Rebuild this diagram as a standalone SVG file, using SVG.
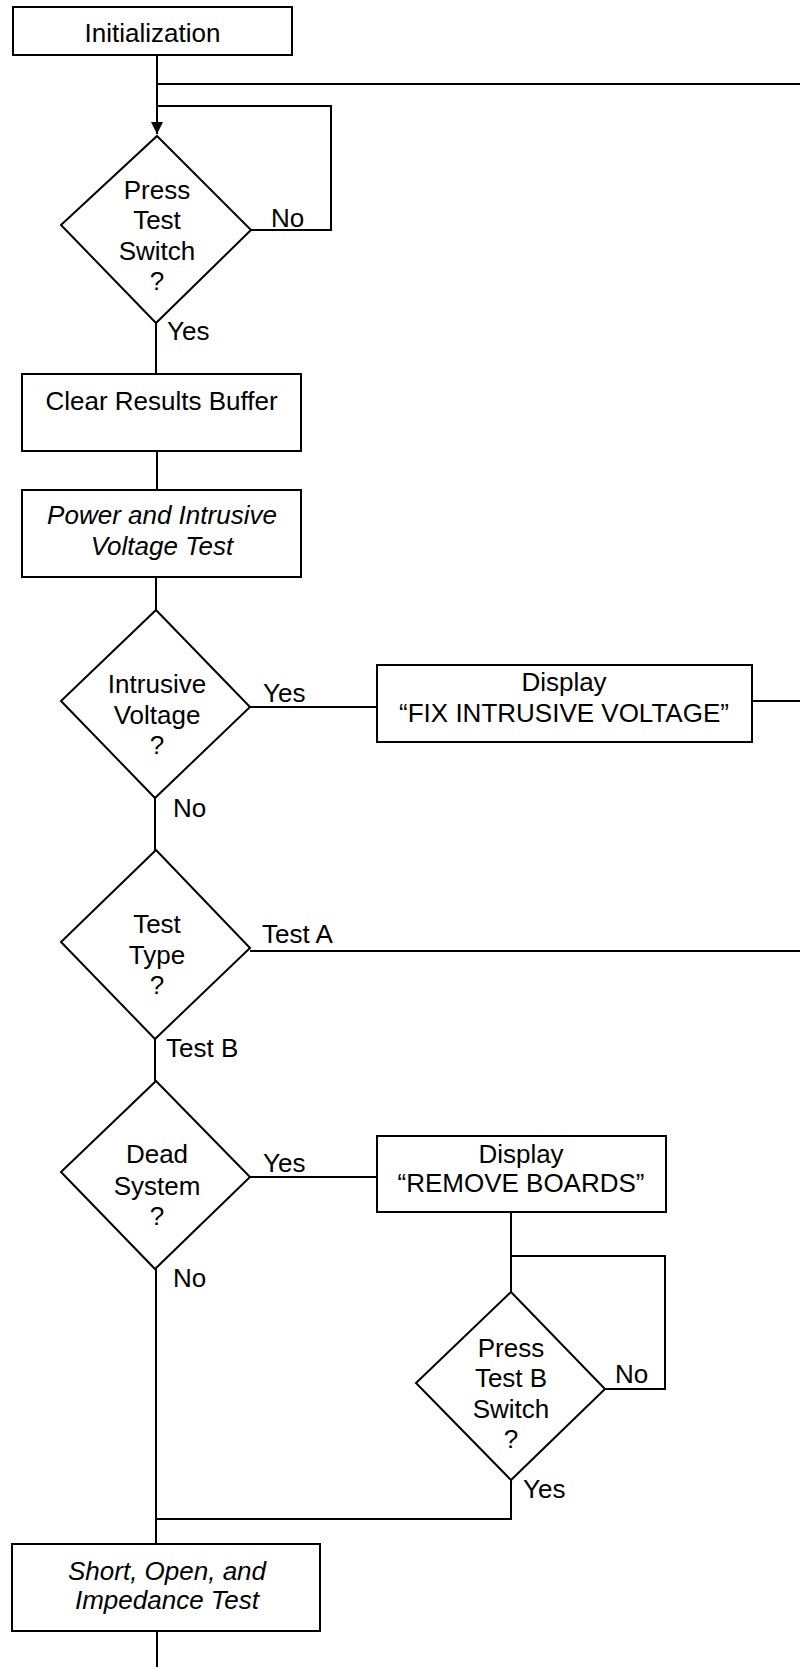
<svg xmlns="http://www.w3.org/2000/svg" width="800" height="1667" viewBox="0 0 800 1667">
  <style>
    .box { fill: #ffffff; stroke: #000000; stroke-width: 2; }
    .wire { fill: none; stroke: #000000; stroke-width: 2; }
    text { font-family: "Liberation Sans", Arial, sans-serif; font-size: 26px; fill: #000000; }
    .c { text-anchor: middle; }
    .it { font-style: italic; }
  </style>
  <defs>
    <marker id="arrow" markerWidth="14" markerHeight="12" refX="12" refY="6" orient="auto" markerUnits="userSpaceOnUse">
      <path d="M0,0 L12,6 L0,12 Z" fill="#000000"/>
    </marker>
  </defs>

  <rect width="800" height="1667" fill="#ffffff"/>

  <!-- connectors -->
  <g id="connectors">
    <path class="wire" d="M157,55 V134" marker-end="url(#arrow)"/>
    <path class="wire" d="M157,84 H800"/>
    <path class="wire" d="M251,230 H331 V106 H157"/>
    <path class="wire" d="M156,323 V374"/>
    <path class="wire" d="M157,451 V490"/>
    <path class="wire" d="M156,577 V610"/>
    <path class="wire" d="M250,707 H377"/>
    <path class="wire" d="M752,701 H800"/>
    <path class="wire" d="M155,798 V850"/>
    <path class="wire" d="M250,951 H800"/>
    <path class="wire" d="M155,1039 V1081"/>
    <path class="wire" d="M250,1177 H377"/>
    <path class="wire" d="M511,1212 V1292"/>
    <path class="wire" d="M511,1256 H665 V1389 H605"/>
    <path class="wire" d="M511,1480 V1519 H157"/>
    <path class="wire" d="M156,1269 V1544"/>
    <path class="wire" d="M157,1631 V1667"/>
    <text x="271" y="227">No</text>
    <text x="167" y="340">Yes</text>
    <text x="263" y="702">Yes</text>
    <text x="173" y="817">No</text>
    <text x="262" y="943">Test A</text>
    <text x="166" y="1057">Test B</text>
    <text x="263" y="1172">Yes</text>
    <text x="173" y="1287">No</text>
    <text x="615" y="1383">No</text>
    <text x="523" y="1498">Yes</text>
  </g>

  <!-- process boxes -->
  <g id="init">
    <rect class="box" x="13" y="7" width="279" height="48"/>
    <text class="c" x="152.5" y="42">Initialization</text>
  </g>

  <g id="clear-buffer">
    <rect class="box" x="22" y="374" width="279" height="77"/>
    <text class="c" x="161.5" y="410">Clear Results Buffer</text>
  </g>

  <g id="power-test">
    <rect class="box" x="22" y="490" width="279" height="87"/>
    <text class="c it" x="162" y="524">Power and Intrusive</text>
    <text class="c it" x="162" y="555">Voltage Test</text>
  </g>

  <g id="fix-voltage">
    <rect class="box" x="377" y="665" width="375" height="77"/>
    <text class="c" x="564" y="691">Display</text>
    <text class="c" x="564" y="722">“FIX INTRUSIVE VOLTAGE”</text>
  </g>

  <g id="remove-boards">
    <rect class="box" x="377" y="1136" width="289" height="76"/>
    <text class="c" x="521" y="1163">Display</text>
    <text class="c" x="521" y="1192">“REMOVE BOARDS”</text>
  </g>

  <g id="short-open-test">
    <rect class="box" x="12" y="1544" width="308" height="87"/>
    <text class="c it" x="167" y="1580">Short, Open, and</text>
    <text class="c it" x="167" y="1609">Impedance Test</text>
  </g>

  <!-- decisions -->
  <g id="press-test">
    <path class="box" d="M157,136 L251,230 L156,323 L61,225 Z"/>
    <text class="c" x="157" y="199">Press</text>
    <text class="c" x="157" y="229">Test</text>
    <text class="c" x="157" y="260">Switch</text>
    <text class="c" x="157" y="290">?</text>
  </g>

  <g id="intrusive-voltage">
    <path class="box" d="M156,610 L250,707 L155,798 L61,701 Z"/>
    <text class="c" x="157" y="693">Intrusive</text>
    <text class="c" x="157" y="724">Voltage</text>
    <text class="c" x="157" y="754">?</text>
  </g>

  <g id="test-type">
    <path class="box" d="M156,850 L250,948 L155,1039 L61,942 Z"/>
    <text class="c" x="157" y="933">Test</text>
    <text class="c" x="157" y="964">Type</text>
    <text class="c" x="157" y="994">?</text>
  </g>

  <g id="dead-system">
    <path class="box" d="M156,1081 L250,1177 L155,1269 L61,1172 Z"/>
    <text class="c" x="157" y="1163">Dead</text>
    <text class="c" x="157" y="1195">System</text>
    <text class="c" x="157" y="1225">?</text>
  </g>

  <g id="press-test-b">
    <path class="box" d="M511,1292 L605,1389 L511,1480 L416,1383 Z"/>
    <text class="c" x="511" y="1357">Press</text>
    <text class="c" x="511" y="1387">Test B</text>
    <text class="c" x="511" y="1418">Switch</text>
    <text class="c" x="511" y="1448">?</text>
  </g>
</svg>
